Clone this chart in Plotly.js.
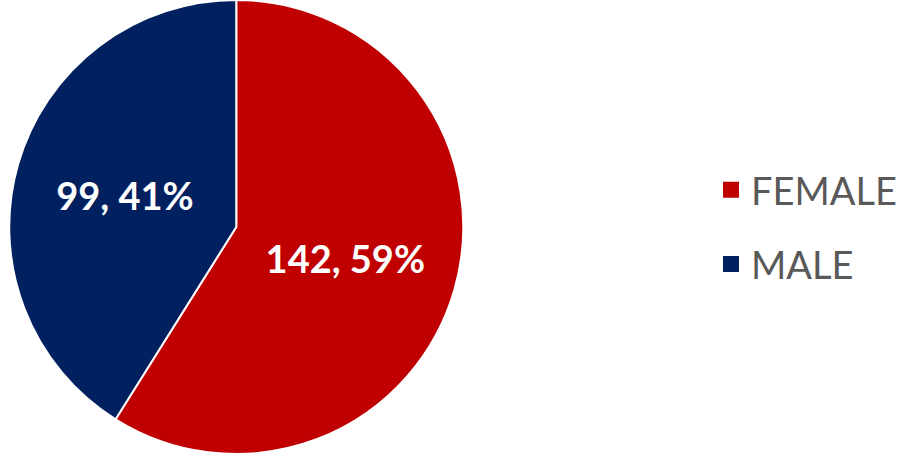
<!DOCTYPE html>
<html><head><meta charset="utf-8">
<script src="https://cdn.plot.ly/plotly-3.0.1.min.js"></script>
<style>html,body{margin:0;padding:0;background:#fff}#chart{width:902px;height:454px}</style>
</head><body><div id="chart"></div>
<script>
const categories = ["FEMALE", "MALE"];
const counts = [142, 99];
const colors = ["#C00000", "#002060"];

const FONT = "Lato, 'Open Sans', sans-serif";

const pie = {
  type: "pie",
  labels: categories,
  values: counts,
  sort: false,
  direction: "clockwise",
  rotation: 0,
  marker: {colors: colors, line: {color: "#ffffff", width: 2}},
  texttemplate: "%{value}, %{percent:.0%}",
  textposition: "inside",
  insidetextorientation: "horizontal",
  textfont: {color: "#ffffff", size: 38, family: FONT, weight: "bold"},
  hoverinfo: "label+value+percent",
  showlegend: false,
  domain: {x: [0, 0.525], y: [0, 1]}
};

// legend entries (one per category) so the gap between them can be set
const legendTraces = categories.map((c, i) => ({
  type: "scatter", mode: "markers", x: [null], y: [null],
  name: c, legendgroup: c, showlegend: true,
  marker: {symbol: "square", size: 16, color: colors[i]},
  hoverinfo: "skip"
}));

Plotly.newPlot("chart", [pie, ...legendTraces], {
  width: 902, height: 454,
  margin: {l: 0, r: 0, t: 0, b: 0},
  paper_bgcolor: "#ffffff",
  plot_bgcolor: "rgba(0,0,0,0)",
  xaxis: {visible: false, domain: [0.99, 1]},
  yaxis: {visible: false},
  showlegend: true,
  legend: {
    x: 0.79, y: 0.5, xanchor: "left", yanchor: "middle",
    font: {size: 38, color: "#595959", family: FONT},
    tracegroupgap: 22, itemwidth: 30
  }
}, {displayModeBar: false, staticPlot: true});
</script></body></html>
